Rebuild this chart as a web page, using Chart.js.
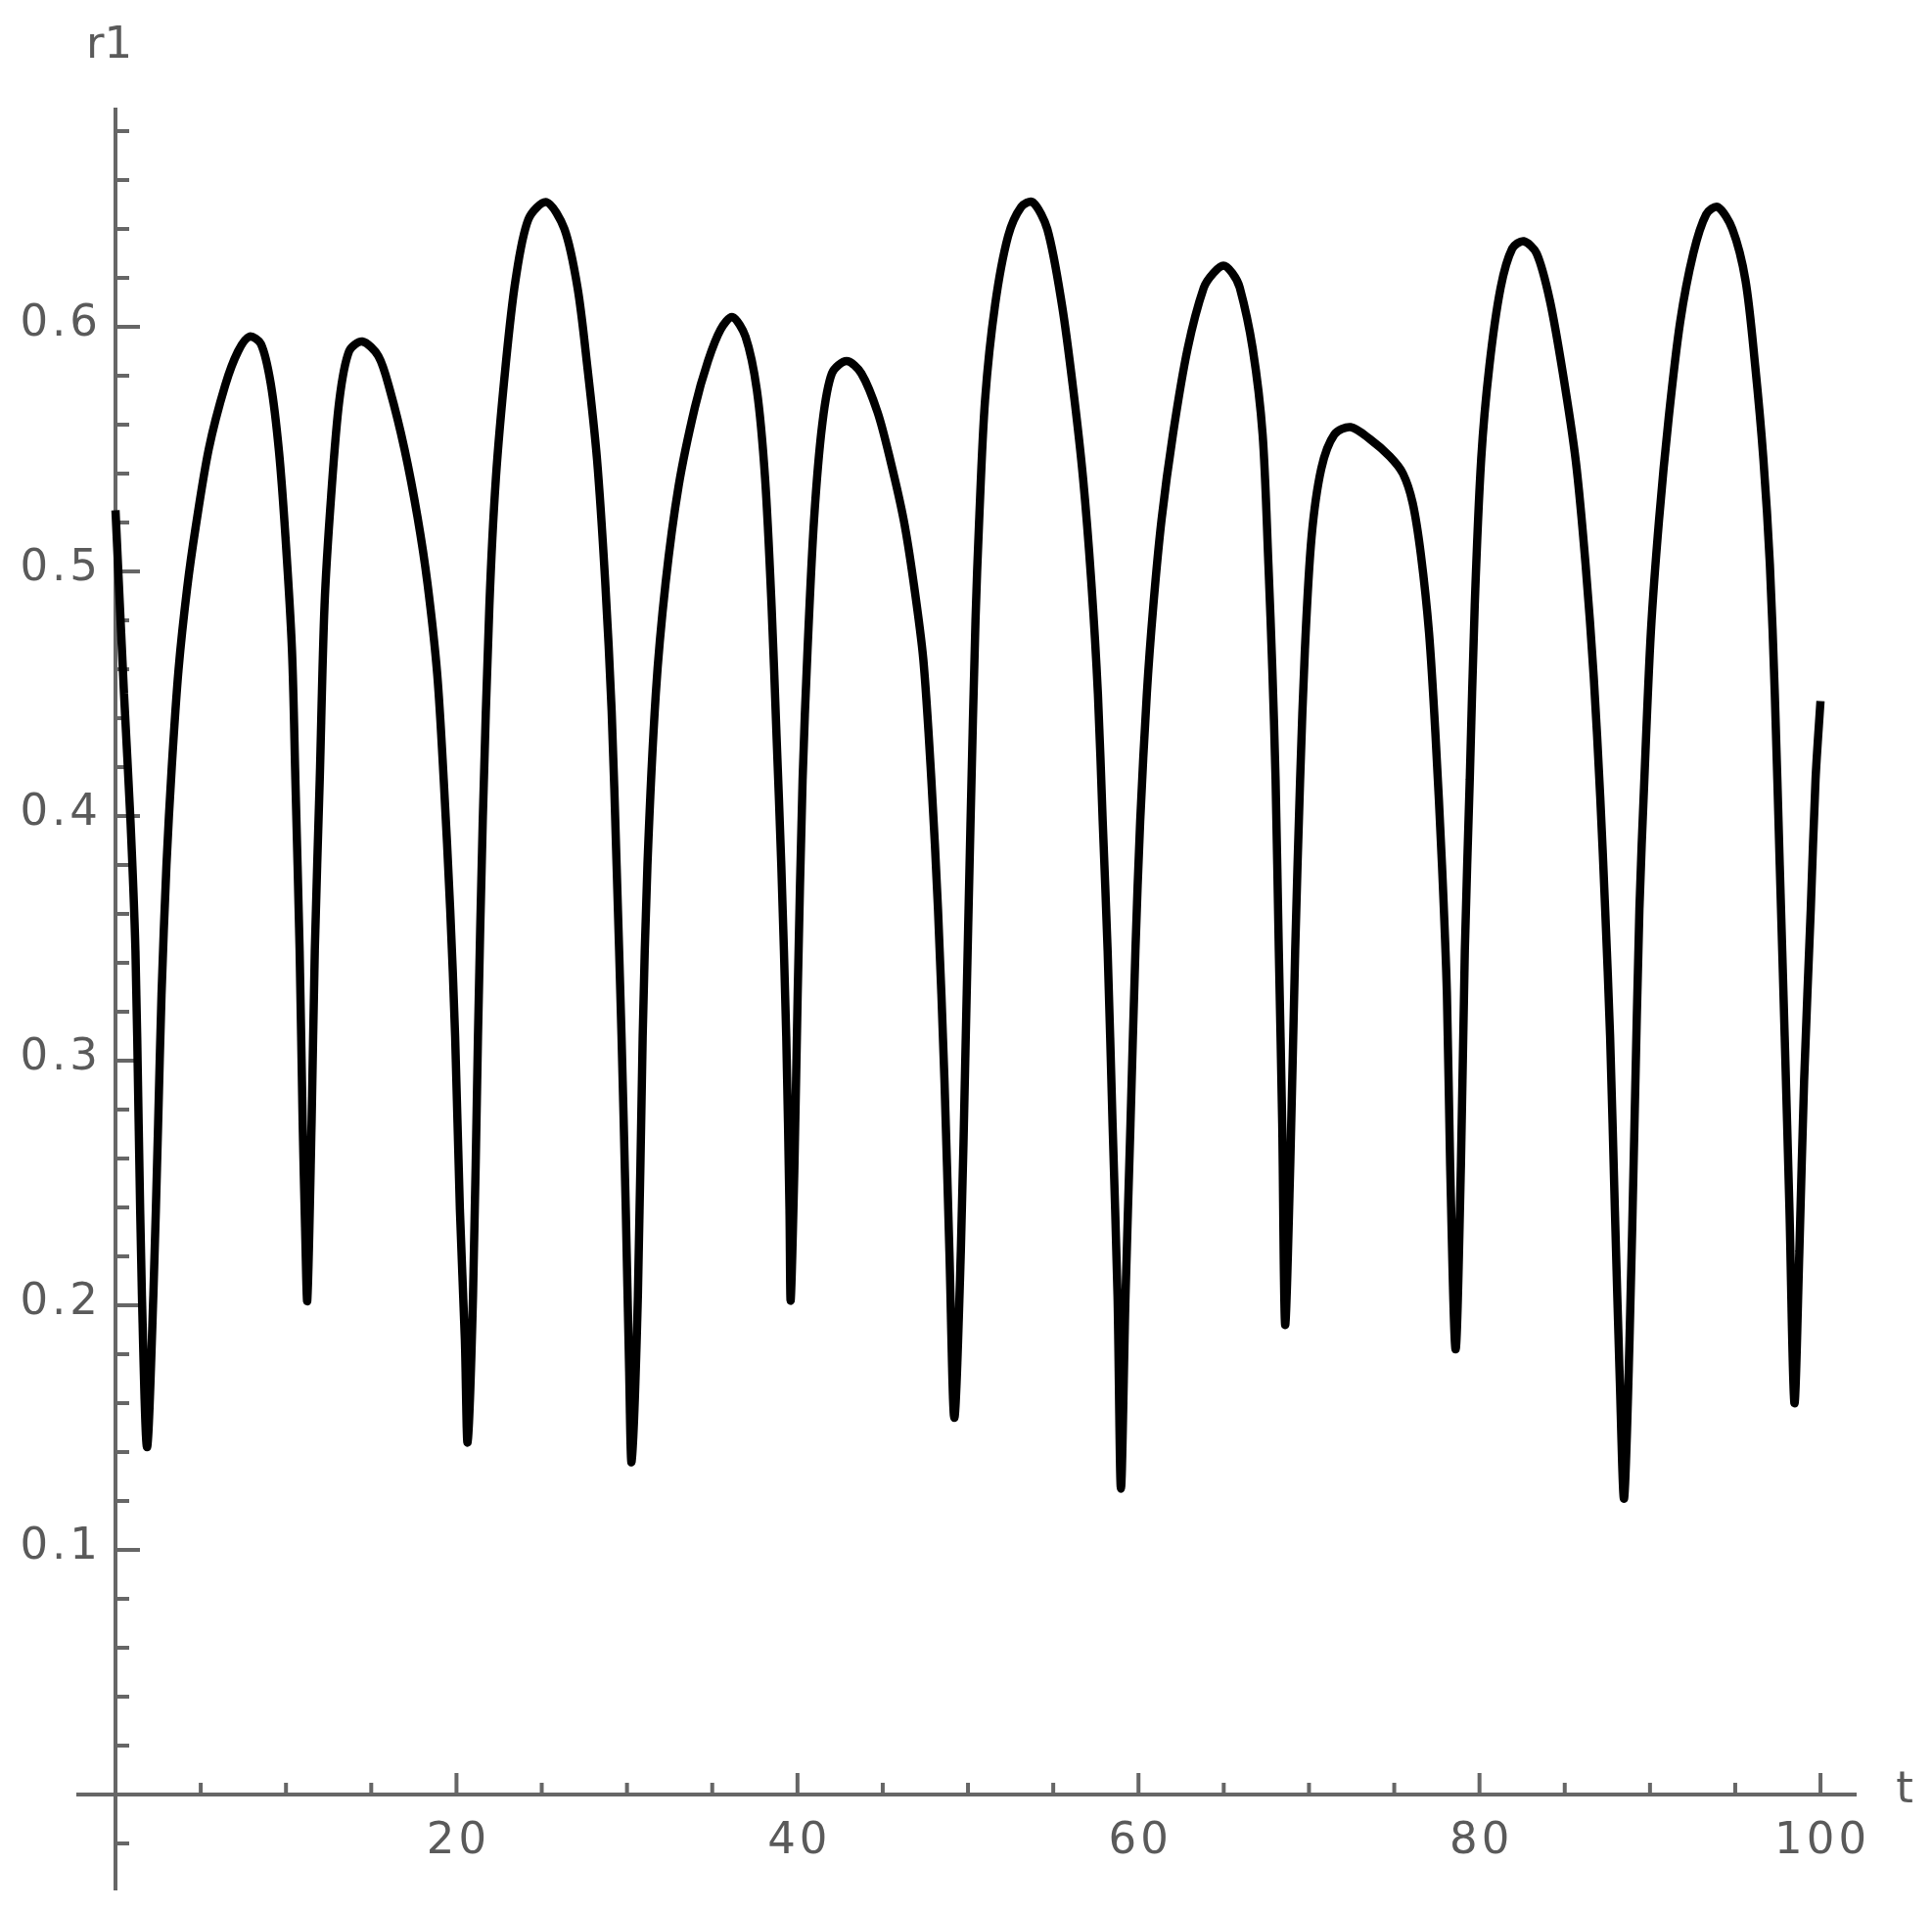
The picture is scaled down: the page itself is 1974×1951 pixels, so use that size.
<!DOCTYPE html>
<html>
<head>
<meta charset="utf-8">
<script src="https://cdn.jsdelivr.net/npm/chart.js@4.4.1/dist/chart.umd.min.js"></script>
<style>
  html, body { margin: 0; padding: 0; background: #ffffff; }
  #wrap { width: 1974px; height: 1951px; }
</style>
</head>
<body>
<div id="wrap"><canvas id="c" width="1974" height="1951"></canvas></div>
<script>
// ---- data ----
const tValues = [
  0, 0.5, 0.88, 1.17, 1.36, 1.55, 1.85,
  2.22, 2.5, 2.7, 2.99, 3.3, 3.7, 4.2, 4.7, 5.47, 6.43, 7.19, 7.86, 8.53, 9.1, 9.59, 9.97, 10.35, 10.55, 10.8, 10.98, 11.12, 11.25,
  11.5, 11.69, 11.98, 12.26, 12.65, 13.13, 13.7, 14.47, 15.42, 16.1, 16.95, 17.72, 18.3, 18.87, 19.25, 19.63, 19.92, 20.2, 20.49, 20.65,
  20.97, 21.26, 21.54, 21.93, 22.31, 22.88, 23.46, 24.22, 25.27, 26.33, 27.1, 27.67, 28.24, 28.72, 29.1, 29.39, 29.68, 29.93, 30.12, 30.27,
  30.64, 30.92, 31.2, 31.69, 32.26, 33.03, 33.98, 34.75, 35.5, 36.18, 36.95, 37.62, 38.1, 38.48, 38.77, 39.05, 39.34, 39.53, 39.6,
  39.82, 40.01, 40.3, 40.59, 40.97, 41.45, 42.02, 42.88, 43.74, 44.7, 45.46, 46.23, 46.8, 47.38, 47.85, 48.24, 48.62, 48.91, 49.2,
  49.58, 49.87, 50.15, 50.44, 50.65, 51.0, 51.59, 52.35, 53.12, 53.79, 54.65, 55.51, 56.18, 56.75, 57.23, 57.62, 57.9, 58.19, 58.48, 58.77, 58.97,
  59.24, 59.53, 59.82, 60.1, 60.49, 60.87, 61.35, 62.02, 62.88, 63.83, 64.4, 64.98, 65.5, 65.94, 66.7, 67.28, 67.62, 67.85, 68.04, 68.23, 68.43, 68.6,
  68.9, 69.19, 69.48, 69.76, 70.15, 70.72, 71.49, 72.44, 73.59, 74.74, 75.51, 76.08, 76.56, 77.04, 77.42, 77.8, 78.09, 78.28, 78.6,
  78.91, 79.14, 79.43, 79.72, 80.1, 80.58, 81.24, 81.92, 82.59, 83.35, 84.12, 84.89, 85.65, 86.22, 86.7, 87.08, 87.37, 87.66, 87.94, 88.23, 88.48,
  88.8, 89.09, 89.38, 89.67, 90.05, 90.53, 91.1, 91.77, 92.54, 93.3, 93.97, 94.83, 95.6, 96.17, 96.65, 97.03, 97.32, 97.61, 97.9, 98.18, 98.47,
  98.76, 99.04, 99.43, 99.71, 100
];
const r1Values = [
  0.525, 0.450, 0.398, 0.345, 0.274, 0.204, 0.142,
  0.204, 0.274, 0.327, 0.380, 0.420, 0.460, 0.493, 0.518, 0.550, 0.576, 0.590, 0.596, 0.593, 0.577, 0.549, 0.514, 0.468, 0.415, 0.345, 0.274, 0.232, 0.202,
  0.274, 0.345, 0.415, 0.486, 0.531, 0.570, 0.590, 0.594, 0.588, 0.574, 0.550, 0.522, 0.495, 0.458, 0.415, 0.362, 0.310, 0.239, 0.186, 0.144,
  0.204, 0.310, 0.398, 0.486, 0.538, 0.584, 0.619, 0.644, 0.651, 0.640, 0.616, 0.584, 0.546, 0.496, 0.443, 0.380, 0.310, 0.239, 0.176, 0.136,
  0.204, 0.310, 0.380, 0.450, 0.495, 0.535, 0.567, 0.586, 0.599, 0.604, 0.596, 0.574, 0.538, 0.486, 0.433, 0.380, 0.310, 0.239, 0.202,
  0.257, 0.327, 0.415, 0.468, 0.521, 0.560, 0.581, 0.586, 0.581, 0.565, 0.545, 0.521, 0.496, 0.464, 0.415, 0.362, 0.292, 0.222, 0.154,
  0.222, 0.310, 0.398, 0.480, 0.520, 0.570, 0.609, 0.637, 0.649, 0.651, 0.640, 0.609, 0.574, 0.538, 0.496, 0.450, 0.398, 0.345, 0.274, 0.204, 0.125,
  0.204, 0.274, 0.345, 0.398, 0.450, 0.486, 0.521, 0.556, 0.591, 0.616, 0.622, 0.625, 0.622, 0.616, 0.591, 0.556, 0.503, 0.460, 0.415, 0.345, 0.274, 0.192,
  0.257, 0.345, 0.415, 0.468, 0.514, 0.542, 0.556, 0.559, 0.554, 0.547, 0.540, 0.528, 0.507, 0.475, 0.433, 0.380, 0.327, 0.257, 0.182,
  0.257, 0.345, 0.415, 0.486, 0.546, 0.584, 0.616, 0.632, 0.635, 0.630, 0.611, 0.581, 0.545, 0.503, 0.457, 0.408, 0.362, 0.310, 0.239, 0.169, 0.121,
  0.186, 0.274, 0.362, 0.415, 0.475, 0.521, 0.563, 0.602, 0.630, 0.646, 0.649, 0.640, 0.619, 0.584, 0.546, 0.503, 0.450, 0.380, 0.310, 0.239, 0.160,
  0.222, 0.292, 0.362, 0.415, 0.447
];

// tick positions and labels
const xMajorTicks = [20, 40, 60, 80, 100];
const xTickLabels = ['20', '40', '60', '80', '100'];
const xMinorTicks = [5, 10, 15, 25, 30, 35, 45, 50, 55, 65, 70, 75, 85, 90, 95];
const yMajorTicks = [0.1, 0.2, 0.3, 0.4, 0.5, 0.6];
const yTickLabels = ['0.1', '0.2', '0.3', '0.4', '0.5', '0.6'];
const yMinorTicks = [-0.02, 0.02, 0.04, 0.06, 0.08, 0.12, 0.14, 0.16, 0.18, 0.22, 0.24, 0.26, 0.28,
  0.32, 0.34, 0.36, 0.38, 0.42, 0.44, 0.46, 0.48, 0.52, 0.54, 0.56, 0.58, 0.62, 0.64, 0.66, 0.68];
const xAxisTitle = 't';
const yAxisTitle = 'r1';

const AXIS_COLOR = '#666666';
const LABEL_COLOR = '#5a5a5a';
const LABEL_FONT = '45px "DejaVu Sans", "Liberation Sans", sans-serif';

const points = tValues.map((t, i) => ({ x: t, y: r1Values[i] }));

const mmaAxes = {
  id: 'mmaAxes',
  beforeDatasetsDraw(chart) {
    const { ctx, chartArea: a } = chart;
    const xs = chart.scales.x, ys = chart.scales.y;
    const x0 = xs.getPixelForValue(0);
    const y0 = ys.getPixelForValue(0);
    ctx.save();
    ctx.strokeStyle = AXIS_COLOR;
    ctx.lineWidth = 4;
    ctx.lineCap = 'butt';
    const seg = (x1, y1, x2, y2) => { ctx.beginPath(); ctx.moveTo(x1, y1); ctx.lineTo(x2, y2); ctx.stroke(); };
    seg(a.left, y0, a.right, y0);
    seg(x0, a.top, x0, a.bottom);
    xMinorTicks.forEach(v => { const p = xs.getPixelForValue(v); seg(p, y0, p, y0 - 12); });
    xMajorTicks.forEach(v => { const p = xs.getPixelForValue(v); seg(p, y0, p, y0 - 22); });
    yMinorTicks.forEach(v => { const p = ys.getPixelForValue(v); seg(x0, p, x0 + 14, p); });
    yMajorTicks.forEach(v => { const p = ys.getPixelForValue(v); seg(x0, p, x0 + 25, p); });

    ctx.fillStyle = LABEL_COLOR;
    ctx.font = LABEL_FONT;
    ctx.letterSpacing = '4px';
    ctx.textAlign = 'center';
    ctx.textBaseline = 'middle';
    xMajorTicks.forEach((v, i) => {
      ctx.fillText(xTickLabels[i], xs.getPixelForValue(v) + 2, y0 + 48);
    });
    ctx.textAlign = 'right';
    yMajorTicks.forEach((v, i) => {
      ctx.fillText(yTickLabels[i], x0 - 14, ys.getPixelForValue(v) - 3);
    });
    ctx.letterSpacing = '0px';
    ctx.textAlign = 'left';
    ctx.textBaseline = 'alphabetic';
    ctx.fillText(yAxisTitle, 88, 59);
    ctx.textAlign = 'center';
    ctx.textBaseline = 'middle';
    ctx.fillText(xAxisTitle, 1946, 1830);
    ctx.restore();
  }
};

new Chart(document.getElementById('c'), {
  type: 'line',
  data: {
    datasets: [{
      data: points,
      borderColor: '#000000',
      borderWidth: 8.5,
      borderJoinStyle: 'bevel',
      borderCapStyle: 'butt',
      pointRadius: 0,
      tension: 0.3,
      fill: false
    }]
  },
  options: {
    responsive: false,
    animation: false,
    devicePixelRatio: 1,
    layout: { padding: { left: 78, right: 77, top: 110, bottom: 19 } },
    plugins: { legend: { display: false }, tooltip: { enabled: false } },
    scales: {
      x: { type: 'linear', min: -2.296, max: 102.12, display: false },
      y: { type: 'linear', min: -0.0392, max: 0.6896, display: false }
    }
  },
  plugins: [mmaAxes]
});
</script>
</body>
</html>
